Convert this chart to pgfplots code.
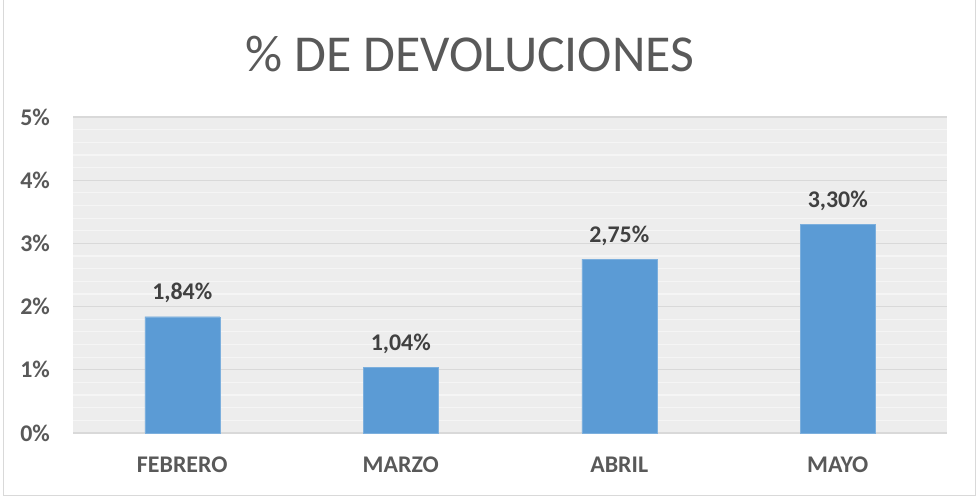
\documentclass[border=0pt]{standalone}
\usepackage{pgfplots}
\pgfplotsset{compat=1.18}
\usepackage{fontspec}
\setmainfont{Carlito}
\definecolor{barblue}{HTML}{5B9BD5}
\definecolor{txtgray}{HTML}{595959}
\definecolor{lblgray}{HTML}{404040}
\definecolor{plotbg}{HTML}{EDEDED}
\definecolor{majgrid}{HTML}{D9D9D9}
\definecolor{mingrid}{HTML}{F5F5F5}
\definecolor{framegray}{HTML}{D9D9D9}
\begin{document}
\begin{tikzpicture}[x=1bp,y=1bp]
\useasboundingbox (0,0) rectangle (976,497);
\draw[framegray, line width=1bp] (3.5,1.5) rectangle (975.5,497.5);
\begin{axis}[
  at={(73bp,64bp)}, anchor=south west,
  scale only axis, width=874bp, height=316bp,
  xmin=-0.5, xmax=3.5, ymin=0, ymax=5,
  axis line style={draw=none},
  axis background/.style={fill=plotbg},
  xtick={0,1,2,3},
  xticklabels={FEBRERO,MARZO,ABRIL,MAYO},
  ytick={0,1,2,3,4,5},
  yticklabels={0\%,1\%,2\%,3\%,4\%,5\%},
  minor y tick num=4,
  major tick length=0pt, minor tick length=0pt,
  ymajorgrids, yminorgrids,
  major grid style={majgrid, line width=1.2bp},
  minor grid style={mingrid, line width=1.2bp},
  tick label style={font=\fontsize{24}{28}\selectfont\bfseries, text=txtgray},
  yticklabel style={anchor=east, inner sep=0pt, xshift=-23bp},
  xticklabel style={anchor=base, inner sep=0pt, yshift=-40bp},
  ybar, bar width=75bp,
  /pgf/number format/assume math mode=true,
  nodes near coords={\pgfmathprintnumber[fixed, fixed zerofill, precision=2, use comma, assume math mode=true]{\pgfplotspointmeta}\%},
  nodes near coords style={font=\fontsize{24}{28}\selectfont\bfseries, text=lblgray, anchor=base, inner sep=0pt, yshift=17bp},
  clip=false,
]
\addplot[fill=barblue, draw=barblue!80!white] coordinates {(0,1.84) (1,1.04) (2,2.75) (3,3.30)};
\end{axis}
\node[anchor=base, inner sep=0pt, text=txtgray, font=\fontsize{52}{58}\selectfont] at (470,425) {\% DE DEVOLUCIONES};
\end{tikzpicture}
\end{document}
